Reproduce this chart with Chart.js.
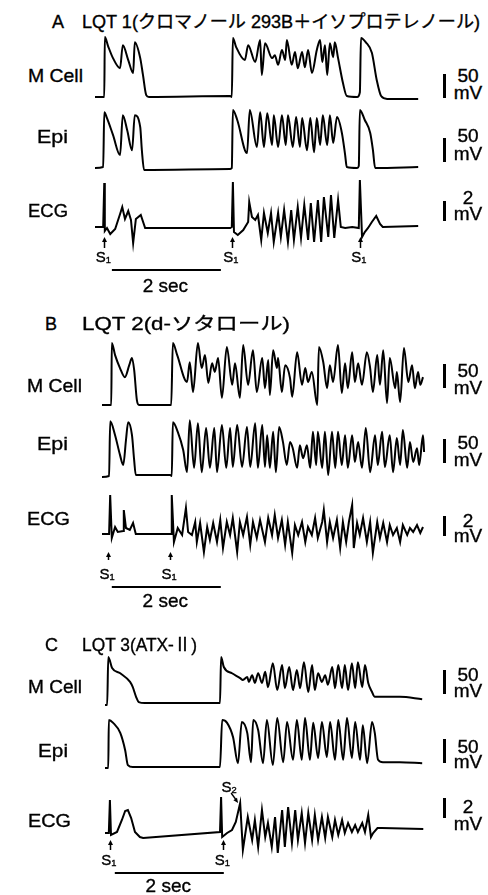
<!DOCTYPE html>
<html><head><meta charset="utf-8">
<script src="https://cdn.jsdelivr.net/npm/chart.js@4.4.1/dist/chart.umd.min.js"></script>
<style>
html,body{margin:0;padding:0;background:#fff;}
#fig{position:relative;width:488px;height:895px;overflow:hidden;background:#fff;
 font-family:"Liberation Sans",Arial,"Noto Sans CJK JP",sans-serif;color:#000;}
canvas{position:absolute;}
.t{position:absolute;white-space:nowrap;line-height:1;transform-origin:0 50%;-webkit-text-stroke:0.35px #000;}
.bar{position:absolute;background:#000;}
</style></head><body><div id="fig"></div>
<script>
// ===== DATA (time in s from trace start, voltage in mV) =====
// Panel A  LQT1
const aMCellT = [0,0.17,0.18,0.24,0.33,0.46,0.51,0.61,0.70,0.73,0.83,0.88,0.94,0.99,2.48,2.51,2.53,2.59,2.75,2.81,2.94,3.03,3.06,3.12,3.25,3.30,3.36,3.43,3.49,3.52,3.61,3.67,3.72,3.80,3.85,3.91,3.98,4.07,4.13,4.17,4.22,4.26,4.31,4.37,4.40,4.46,4.55,4.62,4.81,4.86,4.88,4.97,5.08,5.17,5.25,5.36,5.93];
const aMCellV = [-85,-85,40,21,-4,-25,23,-8,-35,29,-4,-39,-81,-85,-83,-85,38,19,-8,23,-12,34,-39,27,-4,2,-18,13,-8,34,-18,9,-25,9,-23,13,-35,13,34,-12,23,-39,27,-2,29,-4,-56,-83,-85,-75,38,29,7,-50,-83,-89,-89];
const aEpiT = [0,0.15,0.17,0.22,0.33,0.46,0.51,0.59,0.68,0.73,0.83,0.86,0.90,2.48,2.51,2.53,2.61,2.79,2.84,2.97,3.03,3.10,3.16,3.25,3.28,3.36,3.43,3.50,3.54,3.63,3.69,3.76,3.80,3.89,3.95,4.02,4.07,4.13,4.18,4.26,4.31,4.37,4.44,4.53,4.59,4.62,4.81,4.84,4.86,4.95,5.05,5.10,5.14,5.93];
const aEpiV = [-85,-83,31,19,-16,-58,25,-6,-48,25,0,-48,-89,-87,-85,36,15,-54,36,-41,31,-41,29,-37,25,-41,25,-37,25,-41,21,-41,19,-48,19,-52,19,-37,25,-37,25,-33,21,-12,-58,-83,-85,-81,36,15,-12,-48,-85,-83];
const aEcgT = [0,0.15,0.17,0.18,0.22,0.28,0.37,0.46,0.50,0.55,0.61,0.66,0.70,0.75,0.84,0.92,1.01,2.48,2.51,2.53,2.55,2.62,2.72,2.81,2.83,2.88,2.94,2.99,3.05,3.10,3.17,3.23,3.28,3.36,3.41,3.47,3.54,3.60,3.65,3.72,3.78,3.84,3.91,3.96,4.02,4.09,4.15,4.20,4.28,4.33,4.39,4.46,4.51,4.59,4.72,4.84,4.86,4.90,4.95,5.01,5.08,5.16,5.23,5.28,5.93];
const aEcgV = [0,0,4.4,-0.4,-0.1,-0.7,-0.2,1.3,2.0,0.8,1.6,0.7,-1.6,0.8,1.2,-0.1,-0.1,-0.1,0,4.5,-0.5,-0.8,-0.3,0.5,2.5,1.0,0.7,1.2,-1.3,1.4,-0.6,1.4,-1.5,1.4,-1.0,1.7,-1.5,1.7,-1.3,2.0,-1.1,2.2,-1.3,2.4,-1.5,2.7,-1.5,3.0,-1.0,3.2,-1.1,2.7,0,-0.1,0,-0.1,4.7,-1.0,-0.5,-0.1,0.5,1.1,0.3,0,0.1];
const aStimT = [0.17,2.51,4.86];

// Panel B  LQT2
const bMCellT = [0,0.17,0.18,0.24,0.33,0.42,0.50,0.55,0.59,0.64,0.68,1.27,1.30,1.38,1.56,1.61,1.67,1.76,1.83,1.89,1.95,2.02,2.07,2.13,2.20,2.29,2.39,2.44,2.53,2.59,2.68,2.77,2.84,2.94,2.99,3.05,3.08,3.14,3.21,3.23,3.30,3.36,3.45,3.49,3.58,3.67,3.73,3.78,3.85,3.95,3.98,4.06,4.13,4.18,4.24,4.33,4.40,4.46,4.51,4.59,4.64,4.70,4.77,4.86,4.92,4.97,5.05,5.10,5.16,5.23,5.28,5.38,5.41,5.47,5.54,5.62,5.69,5.74,5.80,5.84,5.89];
const bMCellV = [-85,-85,44,19,-8,-27,-2,13,-12,-75,-85,-85,44,19,-37,4,-58,44,-8,19,-39,2,-16,13,-70,36,-43,2,-70,40,-43,29,-58,13,-50,9,-64,29,-8,13,-58,-2,-29,-68,25,-43,-8,-37,-16,-85,36,4,-50,-2,-37,40,-60,2,-50,25,-37,2,-43,25,-8,-58,19,-43,29,-81,13,-50,-16,-79,34,-37,-2,-50,-16,-43,-27];
const bEpiT = [0,0.13,0.15,0.24,0.33,0.39,0.44,0.48,0.55,0.59,0.62,1.25,1.28,1.30,1.39,1.49,1.56,1.61,1.69,1.76,1.83,1.91,1.98,2.06,2.11,2.20,2.28,2.35,2.40,2.48,2.57,2.66,2.72,2.81,2.86,2.94,2.99,3.03,3.08,3.14,3.19,3.25,3.32,3.39,3.45,3.50,3.58,3.63,3.69,3.76,3.82,3.87,3.93,3.96,4.04,4.09,4.15,4.22,4.28,4.33,4.40,4.46,4.51,4.59,4.64,4.70,4.77,4.84,4.92,5.01,5.06,5.14,5.19,5.28,5.34,5.41,5.47,5.52,5.60,5.65,5.71,5.78,5.82,5.89,5.91];
const bEpiV = [-87,-85,29,0,-41,-62,-10,27,0,-52,-83,-83,-85,27,7,-31,-77,31,-68,25,-77,15,-68,15,-77,21,-68,15,-66,21,-66,17,-66,25,-68,21,-66,0,-68,7,-77,17,-14,-62,-14,-27,-68,-21,-48,-21,-68,7,-62,7,-68,7,-83,7,-68,7,-62,0,-68,0,-56,-14,-68,15,-77,0,-62,7,-66,0,-77,-6,-62,11,-68,-14,-56,-27,-62,0,-35];
const bEcgT = [0,0.13,0.15,0.18,0.24,0.29,0.39,0.40,0.44,0.51,0.57,0.62,1.21,1.27,1.28,1.32,1.39,1.47,1.54,1.58,1.65,1.71,1.74,1.80,1.87,1.93,1.98,2.04,2.11,2.17,2.22,2.29,2.35,2.40,2.48,2.53,2.59,2.66,2.72,2.77,2.84,2.90,2.99,3.05,3.12,3.17,3.23,3.30,3.36,3.41,3.49,3.54,3.60,3.67,3.73,3.78,3.85,3.91,3.96,4.04,4.07,4.13,4.18,4.24,4.31,4.37,4.42,4.48,4.53,4.59,4.62,4.68,4.73,4.79,4.86,4.92,4.97,5.05,5.10,5.16,5.23,5.28,5.34,5.41,5.47,5.52,5.60,5.65,5.71,5.78,5.84,5.89];
const bEcgV = [0,0,3.9,-0.4,0.7,0.2,0.3,2.4,0.6,0.4,1.1,0,0,0,3.9,-0.8,0.6,-0.1,2.6,0.2,-0.1,1.2,-0.8,1.1,-1.8,0.7,-0.6,1.1,-0.8,1.4,-1.4,1.2,-0.1,1.6,-1.8,1.2,-0.1,1.7,-1.1,1.2,-0.4,1.4,-0.8,1.6,-0.1,1.9,-0.4,1.4,-1.1,1.2,-1.9,0.9,-0.1,1.2,-0.8,0.7,-0.1,1.6,-0.4,1.2,2.4,-0.8,1.2,-0.4,1.4,-1.4,1.2,-0.8,1.2,2.9,-1.4,1.1,-0.1,1.6,-0.8,1.2,-1.9,1.2,-0.4,1.1,-0.8,0.9,-0.1,0.6,-0.8,0.9,-0.1,0.6,0.2,0.9,0.1,0.7];
const bStimT = [0.11,1.25];

// Panel C  LQT3
const cMCellT = [0,0.04,0.06,0.13,0.28,0.46,0.51,0.57,0.62,0.73,2.11,2.13,2.18,2.33,2.48,2.53,2.61,2.64,2.70,2.75,2.81,2.88,2.94,2.99,3.08,3.16,3.25,3.30,3.38,3.45,3.52,3.58,3.65,3.73,3.80,3.85,3.91,3.98,4.04,4.09,4.17,4.22,4.28,4.35,4.40,4.46,4.53,4.59,4.64,4.72,4.77,4.83,4.90,4.95,5.10,5.41,5.82];
const cMCellV = [-87,-87,13,-10,-21,-39,-50,-70,-81,-83,-83,13,-8,-21,-31,-35,-29,-39,-25,-41,-21,-41,-18,-50,0,-56,-4,-52,-8,-56,-14,-52,2,-60,-4,-56,-21,-39,-25,-45,-8,-52,-4,-52,-4,-56,0,-52,2,-50,-4,-41,-60,-70,-70,-70,-75];
const cEpiT = [0,0.06,0.07,0.15,0.28,0.37,0.42,0.51,2.11,2.15,2.24,2.35,2.44,2.51,2.61,2.68,2.72,2.81,2.90,2.97,3.08,3.16,3.27,3.34,3.45,3.52,3.61,3.67,3.76,3.82,3.91,3.98,4.07,4.13,4.22,4.28,4.37,4.44,4.53,4.59,4.68,4.73,4.81,4.90,4.95,5.01,5.10,5.41,5.82];
const cEpiV = [-87,-87,13,7,-14,-50,-81,-85,-85,13,7,-23,-77,9,-14,-75,13,-8,-77,13,-81,17,-75,9,-70,13,-70,17,-70,7,-66,9,-64,9,-70,13,-70,17,-66,9,-70,2,-77,9,-14,-70,-75,-75,-77];
const cEcgT = [0,0.07,0.09,0.11,0.22,0.31,0.37,0.42,0.48,0.55,0.64,0.70,2.11,2.13,2.15,2.24,2.33,2.40,2.48,2.53,2.62,2.70,2.75,2.81,2.88,2.94,2.99,3.06,3.12,3.17,3.25,3.30,3.36,3.43,3.49,3.54,3.61,3.67,3.73,3.80,3.85,3.91,3.98,4.04,4.09,4.17,4.22,4.28,4.35,4.40,4.46,4.53,4.59,4.64,4.72,4.77,4.83,4.88,4.92,5.00,5.08,5.84];
const cEcgV = [-0.1,-0.1,3.2,-0.3,0,1.2,2.1,2.2,1.4,0,-0.5,-0.6,0,3.5,-0.5,-0.1,0.2,1.0,2.9,-1.8,1.5,-0.8,1.2,-1.5,2.2,-0.5,0.9,-1.5,1.5,-2.1,2.2,-1.5,2.5,-1.1,2.2,-0.8,1.9,-1.1,1.9,-0.8,1.7,-0.8,1.5,-0.6,1.5,-0.5,1.2,-0.3,1.2,-0.1,0.9,0,0.7,0,0.9,0,1.7,-0.5,-0.1,0.4,0.4,0.3];
const cStimT = [0.09,2.17];
const cS2T = 2.46;

// Labels
const titles = ['LQT 1(クロマノール 293B＋イソプロテレノール)', 'LQT 2(d-ソタロール)', 'LQT 3(ATX-Ⅱ)'];
const panelLetters = ['A','B','C'];
const traceNames = ['M Cell','Epi','ECG'];
const scaleApText = '50', scaleEcgText = '2', scaleUnit = 'mV';
const apScaleMV = 50, ecgScaleMV = 2, timeBarS = 2;

// ===== SCALES / LAYOUT =====
const PX_PER_S = 54.5;      // 2 sec = 109 px
const PX_PER_MV_AP = 0.48;  // 50 mV = 24 px
const PX_PER_MV_ECG = 10;   // 2 mV = 20 px
const REST_MV = -85;

const fig = document.getElementById('fig');

function text(html, x, cy, size, o = {}) {
  const d = document.createElement('div');
  d.className = 't'; d.innerHTML = html;
  d.style.fontSize = size + 'px';
  d.style.top = (cy - size * 0.49) + 'px';
  d.style.left = '0px';
  fig.appendChild(d);
  const w = d.getBoundingClientRect().width;
  const sx = o.w ? o.w / w : 1;
  const left = o.center ? x - (w * sx) / 2 : x;
  d.style.left = left + 'px';
  if (sx !== 1) d.style.transform = 'scaleX(' + sx + ')';
  return d;
}

function rect(x, y, w, h) {
  const d = document.createElement('div');
  d.className = 'bar';
  d.style.left = x + 'px'; d.style.top = y + 'px';
  d.style.width = w + 'px'; d.style.height = h + 'px';
  fig.appendChild(d);
}

function makeTrace(p, yb, kind, t, v, plugin) {
  const padL = 4, padR = 4;
  const left = p.x0 - padL;
  const width = (p.x1 - p.x0) + padL + padR;
  const ecg = kind === 'ecg';
  const above = ecg ? 65 : 75;
  const below = ecg ? 75 : 25;
  const k = ecg ? PX_PER_MV_ECG : PX_PER_MV_AP;
  const ref = ecg ? 0 : REST_MV;
  const cv = document.createElement('canvas');
  cv.width = width; cv.height = above + below;
  cv.style.left = left + 'px'; cv.style.top = (yb - above) + 'px';
  cv.style.width = width + 'px'; cv.style.height = (above + below) + 'px';
  fig.appendChild(cv);
  const chart = new Chart(cv, {
    type: 'scatter',
    data: { datasets: [{
      data: t.map((x, i) => ({ x: x, y: v[i] })),
      showLine: true, borderColor: '#000', borderWidth: 2,
      pointRadius: 0, fill: false, clip: false,
      cubicInterpolationMode: ecg ? 'default' : 'monotone', tension: 0
    }]},
    options: {
      responsive: false, animation: false, devicePixelRatio: 1, events: [],
      layout: { padding: 0 },
      plugins: { legend: { display: false }, tooltip: { enabled: false } },
      scales: {
        x: { type: 'linear', display: false, min: -padL / PX_PER_S, max: (p.x1 - p.x0 + padR) / PX_PER_S },
        y: { type: 'linear', display: false, min: ref - below / k, max: ref + above / k }
      }
    },
    plugins: plugin ? [plugin] : []
  });
  return { chart, left, top: yb - above, k };
}

function ecgAnnot(stims, barStart, off, s2) {
  return {
    id: 'ecgAnn',
    afterDraw(chart) {
      const ctx = chart.ctx, xs = chart.scales.x, ys = chart.scales.y;
      const y0 = ys.getPixelForValue(0);
      ctx.save();
      ctx.fillStyle = '#000'; ctx.strokeStyle = '#000';
      stims.forEach(s => {
        const x = Math.round(xs.getPixelForValue(s)) + 0.5;
        ctx.lineWidth = 1.5;
        ctx.beginPath(); ctx.moveTo(x, y0 + off.arrowTop + 3); ctx.lineTo(x, y0 + off.arrowBot); ctx.stroke();
        ctx.beginPath(); ctx.moveTo(x, y0 + off.arrowTop);
        ctx.lineTo(x - 2.5, y0 + off.arrowTop + 5); ctx.lineTo(x + 2.5, y0 + off.arrowTop + 5);
        ctx.closePath(); ctx.fill();
      });
      const xa = xs.getPixelForValue(barStart), xb = xs.getPixelForValue(barStart + timeBarS);
      ctx.lineWidth = 2;
      ctx.beginPath(); ctx.moveTo(xa, y0 + off.bar); ctx.lineTo(xb, y0 + off.bar); ctx.stroke();
      if (s2 !== undefined) {
        const xt = xs.getPixelForValue(s2) - 1, yt = y0 - 29;
        const xf = xt - 7, yf = yt - 10;
        ctx.lineWidth = 1.3;
        ctx.beginPath(); ctx.moveTo(xf, yf); ctx.lineTo(xt - 1.5, yt - 2.5); ctx.stroke();
        const ang = Math.atan2(yt - yf, xt - xf);
        ctx.beginPath(); ctx.moveTo(xt, yt);
        ctx.lineTo(xt - 5 * Math.cos(ang) + 2.2 * Math.sin(ang), yt - 5 * Math.sin(ang) - 2.2 * Math.cos(ang));
        ctx.lineTo(xt - 5 * Math.cos(ang) - 2.2 * Math.sin(ang), yt - 5 * Math.sin(ang) + 2.2 * Math.cos(ang));
        ctx.closePath(); ctx.fill();
      }
      ctx.restore();
    }
  };
}

const panels = [
  { x0: 95, x1: 420, yb: [97, 168, 227], titleY: 22, letterX: 52, titleW: 398,
    labelX: [28, 37, 28], labelY: [75, 136, 210], labelW: [55, 31, 40],
    barY: [86, 150, 211], numY: [75, 135, 197], unitY: [92, 153, 213],
    data: [[aMCellT, aMCellV], [aEpiT, aEpiV], [aEcgT, aEcgV]], stims: aStimT, barStart: 0.31,
    off: { arrowTop: 10, arrowBot: 21, label: 29, bar: 43, barText: 58 } },
  { x0: 102, x1: 426, yb: [405, 476, 534], titleY: 324, letterX: 45, titleW: 208,
    labelX: [27, 37, 27], labelY: [385, 443, 518], labelW: [55, 31, 43],
    barY: [376, 451, 526], numY: [370, 442, 520], unitY: [387, 459, 535],
    data: [[bMCellT, bMCellV], [bEpiT, bEpiV], [bEcgT, bEcgV]], stims: bStimT, barStart: 0.18,
    off: { arrowTop: 18, arrowBot: 26, label: 39, bar: 53, barText: 66 } },
  { x0: 105, x1: 425, yb: [704, 767, 832], titleY: 645, letterX: 45, titleW: 115,
    labelX: [28, 38, 28], labelY: [686, 750, 820], labelW: [54, 30, 43],
    barY: [682, 751, 808], numY: [674, 746, 806], unitY: [690, 761, 823],
    data: [[cMCellT, cMCellV], [cEpiT, cEpiV], [cEcgT, cEcgV]], stims: cStimT, barStart: 0.18, s2: cS2T,
    off: { arrowTop: 8, arrowBot: 18, label: 27, bar: 41, barText: 53 } }
];

panels.forEach((p, pi) => {
  text(panelLetters[pi], p.letterX, p.titleY, 18);
  text(titles[pi], 82, p.titleY, 18, { w: p.titleW });
  for (let r = 0; r < 3; r++) {
    const kind = r === 2 ? 'ecg' : 'ap';
    const plug = r === 2 ? ecgAnnot(p.stims, p.barStart, p.off, p.s2) : null;
    const tr = makeTrace(p, p.yb[r], kind, p.data[r][0], p.data[r][1], plug);
    text(traceNames[r], p.labelX[r], p.labelY[r], 19, { w: p.labelW[r] });
    // calibration bar from the trace's own y scale
    const ys = tr.chart.scales.y;
    const ref = kind === 'ecg' ? 0 : REST_MV;
    const amp = kind === 'ecg' ? ecgScaleMV : apScaleMV;
    const h = Math.abs(ys.getPixelForValue(ref) - ys.getPixelForValue(ref + amp));
    rect(443, p.barY[r] - h / 2, 3, h);
    text(kind === 'ecg' ? scaleEcgText : scaleApText, 468, p.numY[r], 19, { center: true });
    text(scaleUnit, 468, p.unitY[r], 19, { center: true });
    if (kind === 'ecg') {
      const xs = tr.chart.scales.x;
      const y0 = tr.top + ys.getPixelForValue(0);
      p.stims.forEach(s => {
        const x = tr.left + xs.getPixelForValue(s);
        text('S<span style="font-size:0.62em;position:relative;top:0.12em">1</span>', x - 1, y0 + p.off.label, 15, { center: true });
      });
      const xa = tr.left + xs.getPixelForValue(p.barStart), xb = tr.left + xs.getPixelForValue(p.barStart + timeBarS);
      text(timeBarS + ' sec', (xa + xb) / 2 - 1, y0 + p.off.barText, 19, { center: true });
      if (p.s2 !== undefined) {
        const x = tr.left + xs.getPixelForValue(p.s2);
        text('S<span style="font-size:0.62em;position:relative;top:0.12em">2</span>', x - 10, y0 - 46, 15, { center: true });
      }
    }
  }
});
</script></body></html>
